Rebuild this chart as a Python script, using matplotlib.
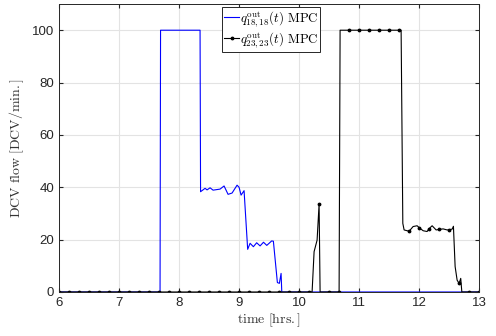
import numpy as np
import matplotlib
matplotlib.use("Agg")
import matplotlib.pyplot as plt

plt.rcParams["mathtext.fontset"] = "cm"
plt.rcParams["font.family"] = ["Liberation Sans", "DejaVu Sans"]

# DCV outflow of zone 18,18 (minutes after 06:00, DCV/min.)
q18_min = [0, 101, 101.5, 141, 141.5, 146, 148, 151, 154, 161, 165, 169, 173,
           178, 180, 182, 185, 188.6, 191, 194.3, 197.6, 201, 204.4, 207.7,
           212.6, 214.3, 218.3, 220.3, 222, 222.7, 420]
q18_val = [0, 0, 100, 100, 38.3, 39.6, 39.0, 39.8, 38.9, 39.3, 40.5, 37.3, 37.8,
           40.8, 40.0, 37.0, 38.7, 16.3, 18.6, 17.3, 18.8, 17.6, 19.0, 17.8,
           19.5, 19.4, 3.6, 3.3, 7.1, 0, 0]

# DCV outflow of zone 23,23 (minutes after 06:00, DCV/min.)
q23_min = [0, 10, 20, 30, 40, 50, 60, 70, 80, 90, 100, 110, 120, 130, 140, 150,
           160, 170, 180, 190, 200, 210, 220, 230, 240, 250,
           253, 255, 258, 260, 261, 270, 280, 281, 290, 300, 310, 320, 330,
           340, 342, 343.7, 345, 350, 354, 358, 360, 364, 368, 370, 373, 377,
           380, 384, 388, 390, 393, 394.3, 396, 398, 400, 401.6, 402.7, 410, 420]
q23_val = [0, 0, 0, 0, 0, 0, 0, 0, 0, 0, 0, 0, 0, 0, 0, 0,
           0, 0, 0, 0, 0, 0, 0, 0, 0, 0,
           0, 15.4, 19.8, 33.6, 0, 0, 0, 100, 100, 100, 100, 100, 100,
           100, 100, 26.2, 23.7, 23.2, 25.0, 25.3, 24.6, 23.4, 23.1, 24.2, 25.3, 23.7,
           23.9, 24.1, 23.7, 23.8, 24.0, 25.1, 9.7, 4.5, 3.3, 5.2, 0, 0, 0]

t18 = 6 + np.array(q18_min) / 60
t23 = 6 + np.array(q23_min) / 60
# markers every 10 minutes
marks = [i for i, m in enumerate(q23_min) if m % 10 == 0]

fig = plt.figure(figsize=(4.96, 3.36), dpi=100)
ax = fig.add_axes([0.119, 0.131, 0.847, 0.857])

ax.plot(t18, q18_val, color=(0, 0, 1), lw=0.8,
        label=r"$q^{\mathrm{out}}_{18,18}(t)\ \mathrm{MPC}$")
ax.plot(t23, q23_val, color="k", lw=0.8, marker=".", ms=3.5, markevery=marks,
        label=r"$q^{\mathrm{out}}_{23,23}(t)\ \mathrm{MPC}$")

ax.set_xlim(6, 13)
ax.set_ylim(0, 110)
ax.set_xticks(range(6, 14))
ax.set_yticks(range(0, 101, 20))
ax.grid(True, color="#e3e3e3", lw=0.8)
ax.set_axisbelow(True)
ax.tick_params(direction="in", top=True, right=True, labelsize=9.5,
               length=3, color="#262626", labelcolor="#262626")
for s in ax.spines.values():
    s.set_color("#262626")
    s.set_linewidth(0.7)

ax.set_xlabel(r"$\mathrm{time\ [hrs.]}$", fontsize=10, labelpad=2, color="#333333")
ax.set_ylabel(r"$\mathrm{DCV\ flow\ [DCV/min.]}$", fontsize=10, labelpad=4,
              color="#333333")

leg = ax.legend(loc="upper left", bbox_to_anchor=(0.388, 0.99), fontsize=9.3,
                frameon=True, fancybox=False, edgecolor="#262626",
                framealpha=1, borderpad=0.15, handlelength=1.2,
                handletextpad=0.05, labelspacing=0.1, borderaxespad=0)
leg.get_frame().set_linewidth(0.7)

fig.savefig("out.png", dpi=100)
